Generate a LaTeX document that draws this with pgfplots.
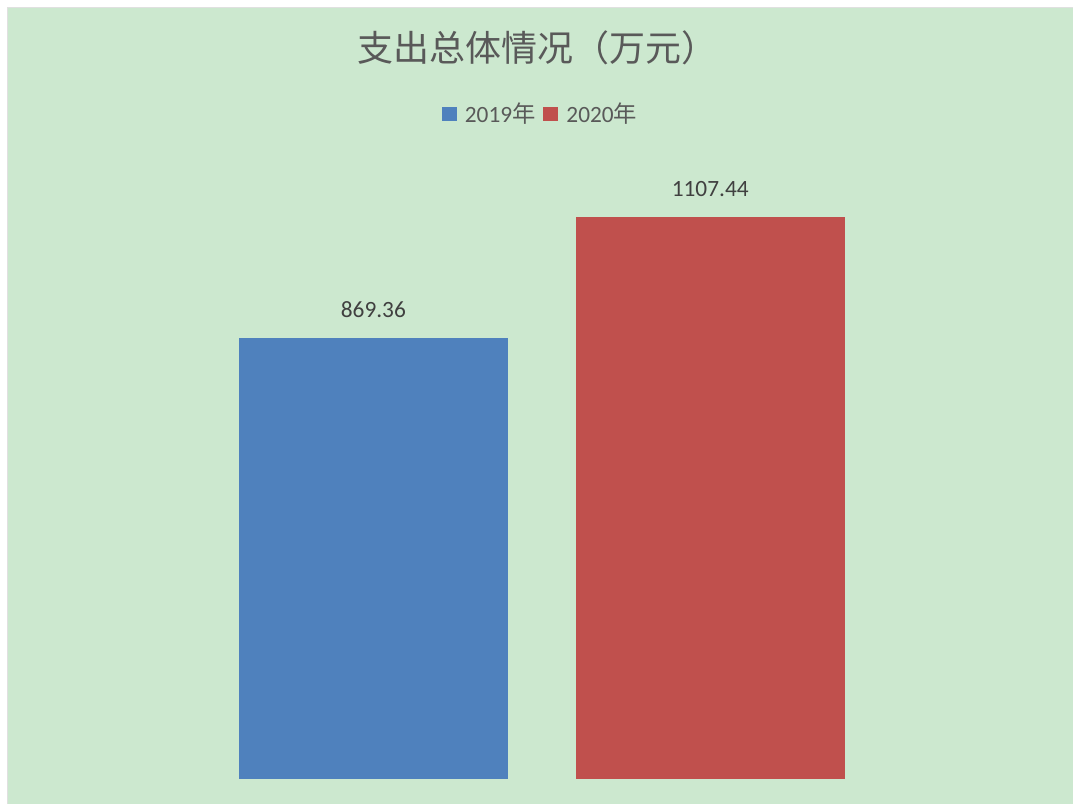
\documentclass[border=0pt]{standalone}
\usepackage{pgfplots}
\pgfplotsset{compat=1.18}
\usepackage{fontspec}
\setmainfont{Carlito}
\newfontfamily\cjk{Noto Sans CJK SC}
\definecolor{bg}{HTML}{CCE8CF}
\definecolor{cblue}{HTML}{4F81BD}
\definecolor{cred}{HTML}{C0504D}
\definecolor{ttl}{HTML}{595959}
\definecolor{lbl}{HTML}{404040}
\begin{document}
\begin{tikzpicture}
% page and background (1px = 0.75pt)
\fill[white] (0pt,0pt) rectangle (804.75pt,603pt);
\fill[bg] (5.25pt,0pt) rectangle (804.75pt,597.75pt);
\draw[black!12, line width=0.6pt] (5.25pt,0pt) -- (5.25pt,597.75pt) -- (804.75pt,597.75pt);
\begin{axis}[
  at={(0pt,18.75pt)}, anchor=south west,
  scale only axis,
  width=804.75pt, height=584.25pt,
  xmin=0, xmax=1073, ymin=0, ymax=1535.3,
  axis lines=none,
  clip=false,
  ybar, bar width=201.75pt, bar shift=0pt,
  title={\cjk 支出总体情况（万元）},
  title style={at={(axis cs:538,1426)}, anchor=center, font=\fontsize{27}{30}\selectfont, text=ttl, inner sep=0pt},
  nodes near coords,
  point meta=explicit symbolic,
  nodes near coords style={anchor=base, yshift=15.5pt, font=\fontsize{17.5}{20}\selectfont, text=lbl, inner sep=0pt},
  legend columns=2,
  legend style={at={(axis cs:541,1310.6)}, anchor=center, draw=none, fill=none,
    font=\fontsize{17.5}{20}\selectfont, text=ttl,
    /tikz/every odd column/.append style={column sep=4pt},
    /tikz/every even column/.append style={column sep=4pt}},
  legend image code/.code={\fill[#1] (0pt,-5.6pt) rectangle (11.25pt,5.6pt);},
]
\addplot[fill=cblue, draw=none] coordinates {(373.5,869.36) [869.36]};
\addlegendentry{2019\cjk 年}
\addplot[fill=cred, draw=none] coordinates {(710.5,1107.44) [1107.44]};
\addlegendentry{2020\cjk 年}
\end{axis}
\end{tikzpicture}
\end{document}
